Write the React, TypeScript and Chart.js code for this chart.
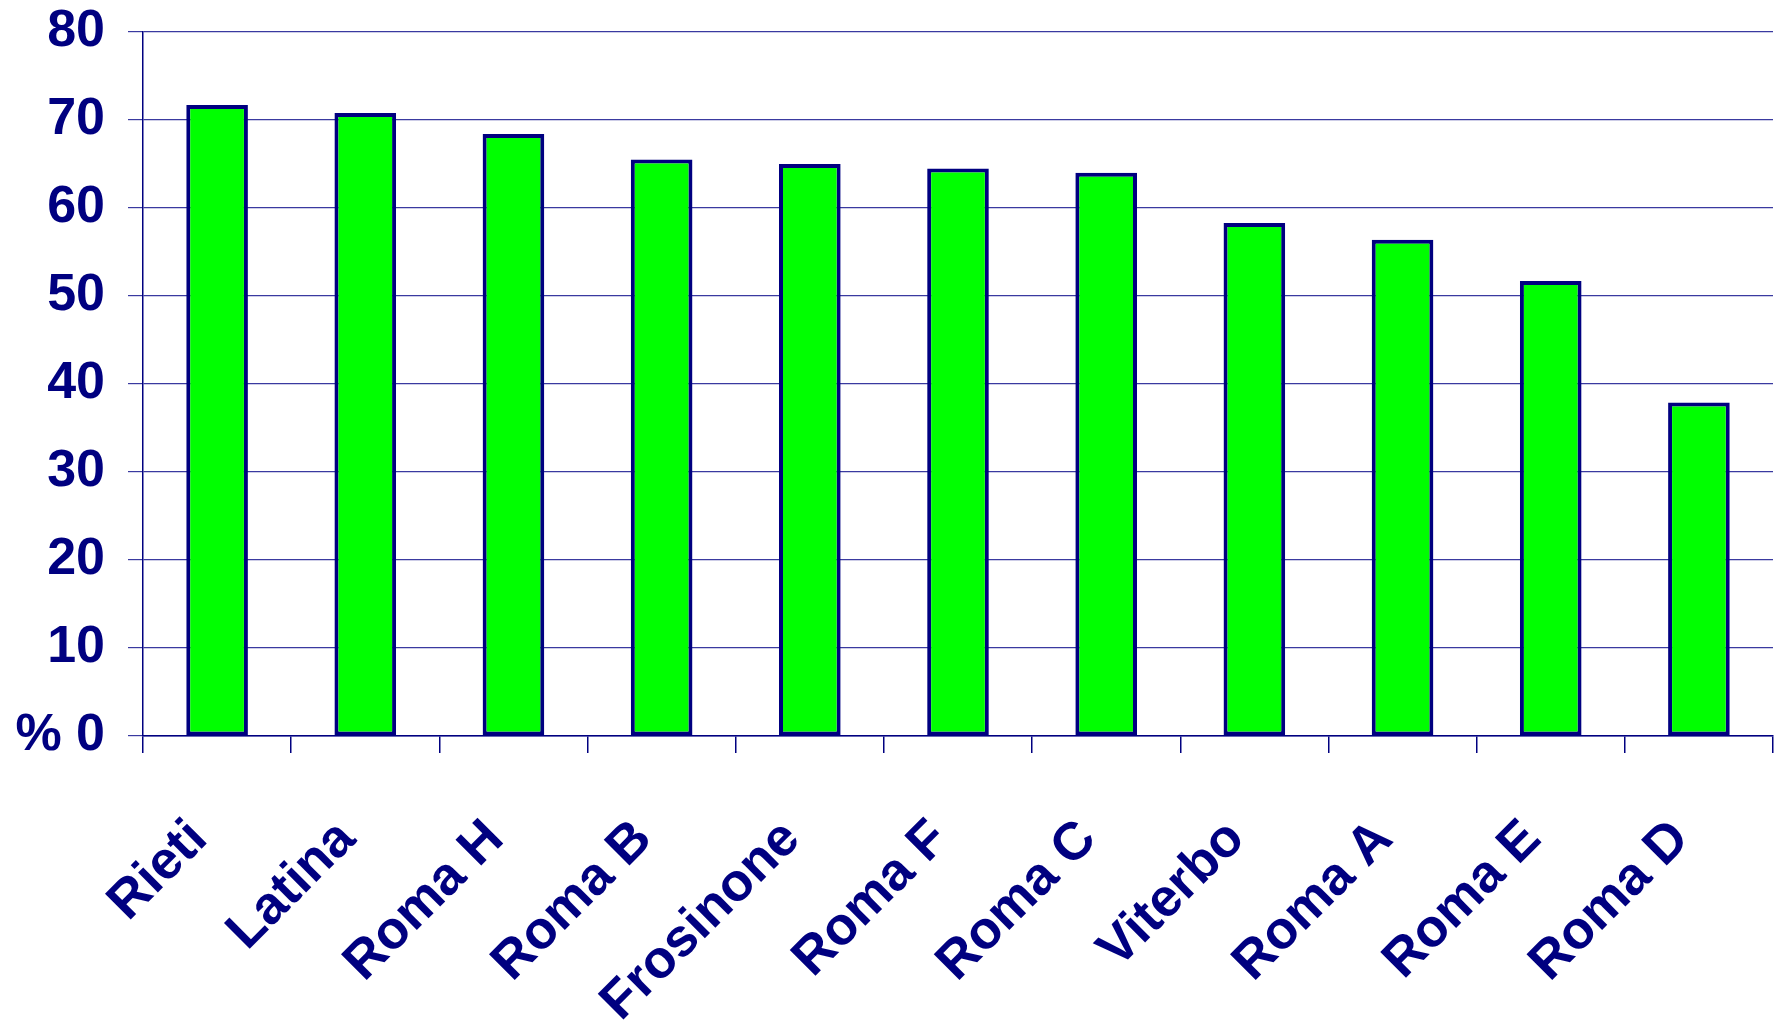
import React, { useEffect, useRef } from "react";
import { Chart, registerables } from "chart.js";

Chart.register(...registerables);

const categories = [
  "Rieti",
  "Latina",
  "Roma H",
  "Roma B",
  "Frosinone",
  "Roma F",
  "Roma C",
  "Viterbo",
  "Roma A",
  "Roma E",
  "Roma D",
];
const values = [71.7, 70.8, 68.4, 65.5, 65.0, 64.5, 64.0, 58.3, 56.4, 51.7, 37.9];
const yTicks = [0, 10, 20, 30, 40, 50, 60, 70, 80];

const NAVY = "#000080";
const FONT = "'Liberation Sans', Arial, sans-serif";

export default function App() {
  const ref = useRef<HTMLCanvasElement | null>(null);
  useEffect(() => {
    if (!ref.current) return;
    const chart = new Chart(ref.current, {
      type: "bar",
      data: {
        labels: categories,
        datasets: [
          {
            data: values,
            backgroundColor: "#00ff00",
            borderColor: NAVY,
            borderWidth: 4,
            borderSkipped: false,
            categoryPercentage: 0.8,
            barPercentage: 0.52,
          },
        ],
      },
      options: {
        responsive: false,
        animation: false,
        layout: { padding: { top: 32, right: 12, left: 0, bottom: 0 } },
        plugins: { legend: { display: false }, tooltip: { enabled: false } },
        scales: {
          x: {
            grid: {
              offset: true,
              drawOnChartArea: false,
              drawTicks: true,
              tickLength: 17,
              color: NAVY,
              lineWidth: 1.5,
            },
            border: { display: true, color: NAVY, width: 1.5 },
            ticks: {
              autoSkip: false,
              maxRotation: 45,
              minRotation: 45,
              padding: 55,
              labelOffset: -18,
              color: NAVY,
              font: { family: FONT, size: 53, weight: "bold" },
            },
            afterFit: (scale: any) => {
              scale.height = 286;
              scale.paddingLeft = 0;
              scale.paddingRight = 0;
            },
          },
          y: {
            min: 0,
            max: 80,
            afterBuildTicks: (scale: any) => {
              scale.ticks = yTicks.map((v) => ({ value: v }));
            },
            grid: {
              color: "#3a3aa0",
              lineWidth: 1.2,
              tickLength: 15,
            },
            border: { display: true, color: NAVY, width: 1.5 },
            ticks: {
              padding: 23,
              color: NAVY,
              font: { family: FONT, size: 52, weight: "bold" },
              callback: (v: any) => (v === 0 ? "% 0" : String(v)),
            },
            afterFit: (scale: any) => {
              scale.width = 143;
              scale.paddingTop = 0;
              scale.paddingBottom = 0;
            },
          },
        },
      },
    });
    return () => chart.destroy();
  }, []);
  return (
    <div style={{ position: "fixed", left: 0, top: 0, width: 1785, height: 1022, background: "#fff" }}>
      <canvas ref={ref} width={1785} height={1022} />
    </div>
  );
}
